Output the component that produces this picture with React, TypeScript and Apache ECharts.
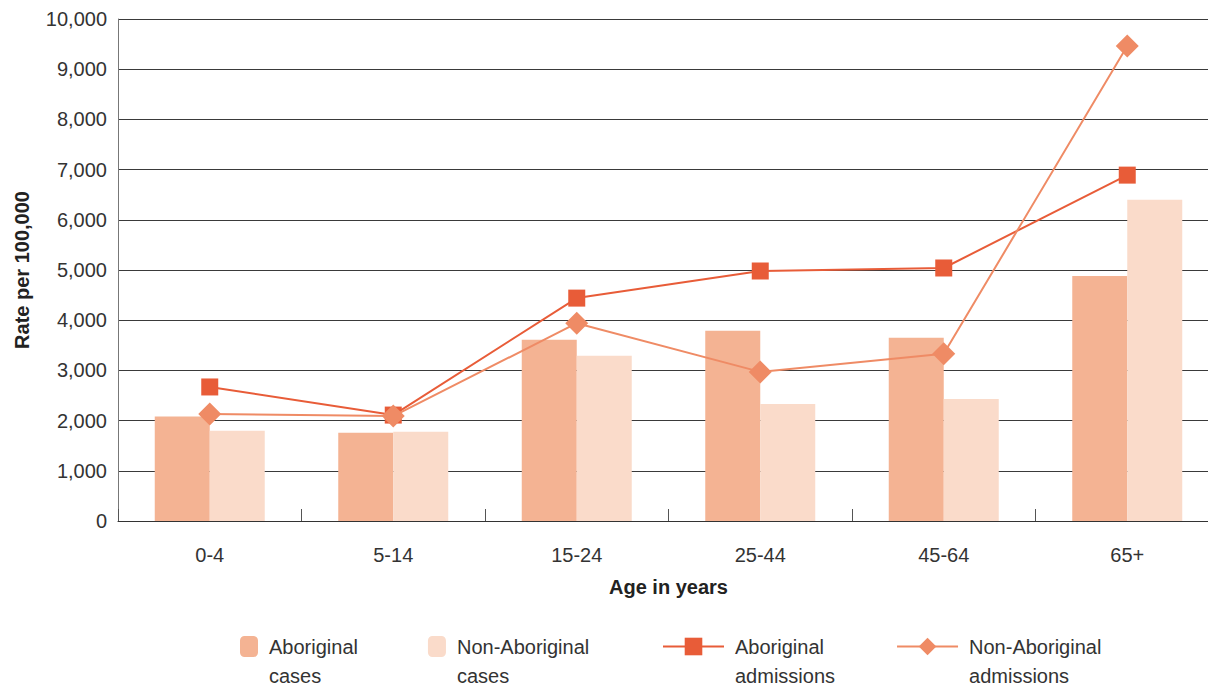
import React, { useEffect, useRef } from "react";
import * as echarts from "echarts";

const categories = ["0-4", "5-14", "15-24", "25-44", "45-64", "65+"];
const aboriginalCases = [2080, 1760, 3610, 3790, 3650, 4880];
const nonAboriginalCases = [1800, 1780, 3290, 2330, 2430, 6400];
const aboriginalAdmissions = [2670, 2110, 4440, 4980, 5040, 6890];
const nonAboriginalAdmissions = [2130, 2090, 3940, 2970, 3330, 9460];
const yTicks = [0, 10000, 1000];

const FONT = "Liberation Sans";

export default function App() {
  const ref = useRef<HTMLDivElement>(null);
  useEffect(() => {
    if (!ref.current) return;
    const chart = echarts.init(ref.current, null, { renderer: "svg" });
    const legendText = {
      fontFamily: FONT,
      fontSize: 20,
      color: "#333",
      lineHeight: 29,
      rich: {
        p: { fontFamily: FONT, fontSize: 20, color: "#333", lineHeight: 29, padding: [0, 0, 0, 6] },
      },
    };
    const fmt = (n: string) => {
      const parts = n.split(" ");
      return "{p| }\n{p|" + parts[0] + "}\n{p|" + parts.slice(1).join(" ") + "}";
    };
    chart.setOption({
      animation: false,
      backgroundColor: "#fff",
      textStyle: { fontFamily: FONT },
      grid: { left: 118, top: 19, width: 1101, height: 502 },
      legend: [
        {
          left: 240,
          top: 603,
          padding: 0,
          itemWidth: 18,
          itemHeight: 21,
          itemGap: 70,
          data: ["Aboriginal cases", "Non-Aboriginal cases"],
          formatter: fmt,
          textStyle: legendText,
          selectedMode: false,
        },
        {
          left: 662,
          top: 603,
          padding: 0,
          itemWidth: 61,
          itemHeight: 22,
          itemGap: 61,
          data: ["Aboriginal admissions", "Non-Aboriginal admissions"],
          formatter: fmt,
          textStyle: legendText,
          selectedMode: false,
        },
      ],
      xAxis: {
        type: "category",
        data: categories,
        name: "Age in years",
        nameLocation: "middle",
        nameGap: 56,
        nameTextStyle: { fontFamily: FONT, fontSize: 20, fontWeight: "bold", color: "#222" },
        axisLine: { lineStyle: { color: "#333", width: 1 } },
        axisTick: { show: true, inside: true, length: 12, lineStyle: { color: "#555" } },
        axisLabel: { fontFamily: FONT, fontSize: 20, color: "#333", margin: 24 },
      },
      yAxis: {
        type: "value",
        min: yTicks[0],
        max: yTicks[1],
        interval: yTicks[2],
        name: "Rate per 100,000",
        nameLocation: "middle",
        nameGap: 86,
        nameRotate: 90,
        nameTextStyle: { fontFamily: FONT, fontSize: 20, fontWeight: "bold", color: "#222" },
        axisLine: { show: true, lineStyle: { color: "#777" } },
        axisTick: { show: false },
        axisLabel: {
          fontFamily: FONT,
          fontSize: 20,
          color: "#333",
          margin: 11,
          formatter: (v: number) => v.toLocaleString("en-US"),
        },
        splitLine: { show: true, lineStyle: { color: "#3a3a3a", width: 1 } },
      },
      series: [
        {
          name: "Aboriginal cases",
          type: "bar",
          data: aboriginalCases,
          barWidth: 55,
          barGap: "0%",
          itemStyle: { color: "#F4B393" },
        },
        {
          name: "Non-Aboriginal cases",
          type: "bar",
          data: nonAboriginalCases,
          barWidth: 55,
          barGap: "0%",
          itemStyle: { color: "#FADBCA" },
        },
        {
          name: "Aboriginal admissions",
          type: "line",
          data: aboriginalAdmissions,
          symbol: "rect",
          symbolSize: 17,
          lineStyle: { color: "#E85C38", width: 2 },
          itemStyle: { color: "#E85C38" },
          z: 3,
        },
        {
          name: "Non-Aboriginal admissions",
          type: "line",
          data: nonAboriginalAdmissions,
          symbol: "diamond",
          symbolSize: 23,
          lineStyle: { color: "#EF8B65", width: 2 },
          itemStyle: { color: "#EF8B65" },
          z: 4,
        },
      ],
    });
    return () => chart.dispose();
  }, []);
  return (
    <div
      style={{
        position: "fixed",
        left: 0,
        top: 0,
        width: 1208,
        height: 688,
        overflow: "hidden",
        background: "#fff",
      }}
    >
      <div ref={ref} style={{ width: 1230, height: 688 }} />
    </div>
  );
}
